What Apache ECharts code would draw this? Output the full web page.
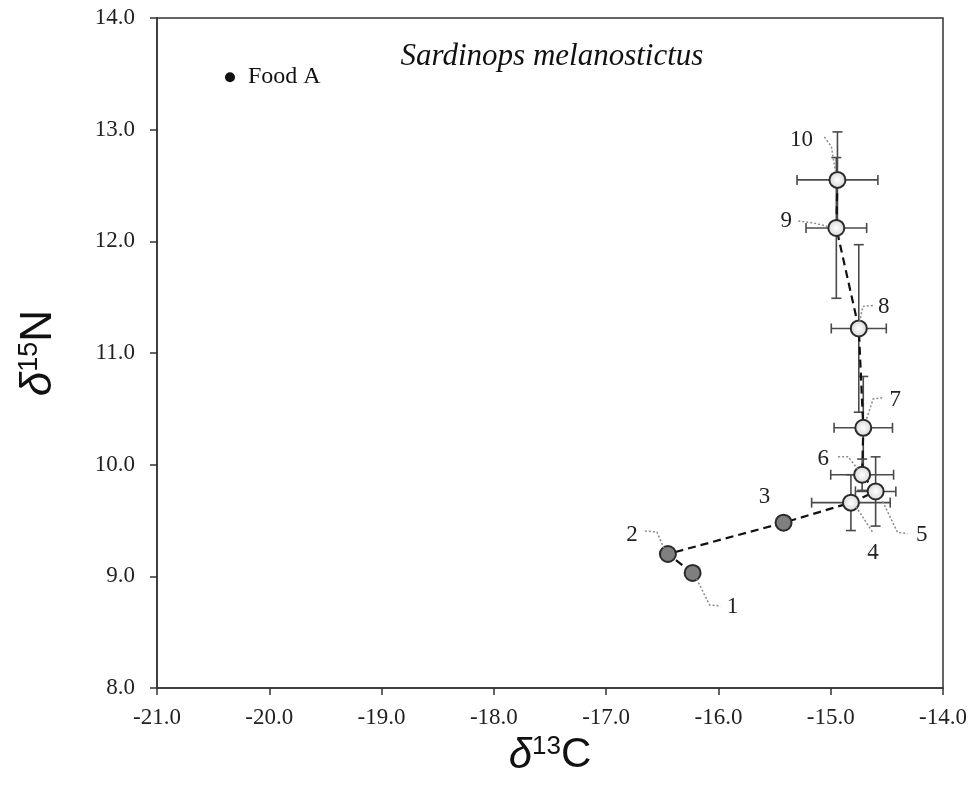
<!DOCTYPE html>
<html>
<head>
<meta charset="utf-8">
<script src="https://cdn.jsdelivr.net/npm/echarts@6/dist/echarts.min.js"></script>
<style>
  html, body { margin: 0; padding: 0; background: #fff; }
  #chart { width: 973px; height: 790px; }
</style>
</head>
<body>
<div id="chart"></div>
<script>
// Growth stages of Sardinops melanostictus: mean δ13C / δ15N with SD
const stageLabels = ['1', '2', '3', '4', '5', '6', '7', '8', '9', '10'];
const d13C = [-16.23, -16.45, -15.42, -14.82, -14.60, -14.72, -14.71, -14.75, -14.95, -14.94];
const d15N = [9.03, 9.20, 9.48, 9.66, 9.76, 9.91, 10.33, 11.22, 12.12, 12.55];
const d13C_sd = [null, null, null, 0.35, 0.18, 0.28, 0.26, 0.245, 0.27, 0.36];
const d15N_sd = [null, null, null, 0.25, 0.31, 0.14, 0.46, 0.75, 0.63, 0.43];
// stages drawn with the dark fill
const darkStages = ['1', '2', '3'];

// food source
const foodNames = ['Food A'];
const foodC = [-20.35];
const foodN = [13.47];

// axis ranges
const xRange = [-21, -14];
const yRange = [8, 14];

// callout placement for the stage numbers (pixel offsets from each marker)
const callouts = {
  '1':  { text: [40, 34],  path: [[4, 6], [17, 32], [28, 33]] },
  '2':  { text: [-36, -19], path: [[-23, -23], [-11, -22], [-4, -6]] },
  '3':  { text: [-19, -26], path: null },
  '4':  { text: [22, 50],  path: [[5, 4], [22, 30]] },
  '5':  { text: [46, 43],  path: [[7, 10], [22, 41], [32, 42]] },
  '6':  { text: [-39, -16], path: [[-24, -18], [-14, -18], [-4, -5]] },
  '7':  { text: [32, -28], path: [[19, -30], [10, -29], [3, -8]] },
  '8':  { text: [25, -21], path: [[14, -23], [4, -22], [1, -7]] },
  '9':  { text: [-50, -7], path: [[-38, -7], [-23, -5], [-7, -1]] },
  '10': { text: [-36, -40], path: [[-13, -43], [-6, -33], [-2, -8]] }
};

const serif = '"Liberation Serif", "Times New Roman", serif';
const sans = '"Liberation Sans", Arial, sans-serif';

const points = stageLabels.map((s, i) => [d13C[i], d15N[i], s]);
const errRows = stageLabels
  .map((s, i) => [d13C[i], d15N[i], d13C_sd[i], d15N_sd[i]])
  .filter(r => r[2] != null);

function renderErrorBar(params, api) {
  const x = api.value(0), y = api.value(1), ex = api.value(2), ey = api.value(3);
  const c = api.coord([x, y]);
  const l = api.coord([x - ex, y])[0], r = api.coord([x + ex, y])[0];
  const t = api.coord([x, y + ey])[1], b = api.coord([x, y - ey])[1];
  const cap = 5;
  const style = { stroke: '#4a4a4a', lineWidth: 1.6, fill: null };
  const seg = (x1, y1, x2, y2) => ({ type: 'line', shape: { x1, y1, x2, y2 }, style });
  return {
    type: 'group',
    children: [
      seg(l, c[1], r, c[1]),
      seg(l, c[1] - cap, l, c[1] + cap),
      seg(r, c[1] - cap, r, c[1] + cap),
      seg(c[0], t, c[0], b),
      seg(c[0] - cap, t, c[0] + cap, t),
      seg(c[0] - cap, b, c[0] + cap, b)
    ]
  };
}

function renderCallout(params, api) {
  const c = api.coord([api.value(0), api.value(1)]);
  const key = stageLabels[params.dataIndex];
  const cfg = callouts[key];
  const children = [];
  if (cfg.path) {
    children.push({
      type: 'polyline',
      shape: { points: cfg.path.map(p => [c[0] + p[0], c[1] + p[1]]) },
      style: { stroke: '#8a8a8a', lineWidth: 1.5, lineDash: [2, 2], fill: null }
    });
  }
  children.push({
    type: 'text',
    x: c[0] + cfg.text[0],
    y: c[1] + cfg.text[1],
    style: {
      text: key, fill: '#222', font: '23px ' + serif,
      align: 'center', verticalAlign: 'middle'
    }
  });
  return { type: 'group', children };
}

const chart = echarts.init(document.getElementById('chart'), null, { renderer: 'canvas' });

chart.setOption({
  animation: false,
  backgroundColor: '#fff',
  grid: {
    left: 157, right: 30, top: 18, bottom: 102,
    show: true, borderColor: '#333', borderWidth: 1.5, backgroundColor: 'transparent'
  },
  graphic: [{
    type: 'text',
    x: 552, y: 57,
    style: {
      text: 'Sardinops melanostictus',
      font: 'italic 31px ' + serif,
      fill: '#111', align: 'center', verticalAlign: 'middle'
    }
  }],
  xAxis: {
    type: 'value',
    min: xRange[0], max: xRange[1], interval: 1,
    splitLine: { show: false },
    axisLine: { onZero: false, lineStyle: { color: '#333', width: 1.5 } },
    axisTick: { show: true, inside: false, length: 7, lineStyle: { color: '#333', width: 1.5 } },
    axisLabel: {
      formatter: v => v.toFixed(1), color: '#222', fontFamily: serif, fontSize: 23, margin: 18
    },
    name: '{d|δ}{s|13}{c|C}',
    nameLocation: 'middle',
    nameGap: 44,
    nameTextStyle: {
      rich: {
        d: { fontFamily: sans, fontStyle: 'italic', fontSize: 42, color: '#111' },
        s: { fontFamily: sans, fontSize: 26, color: '#111', padding: [0, 0, 18, 0] },
        c: { fontFamily: sans, fontSize: 42, color: '#111' }
      }
    }
  },
  yAxis: {
    type: 'value',
    min: yRange[0], max: yRange[1], interval: 1,
    splitLine: { show: false },
    axisLine: { onZero: false, lineStyle: { color: '#333', width: 1.5 } },
    axisTick: { show: true, inside: false, length: 7, lineStyle: { color: '#333', width: 1.5 } },
    axisLabel: {
      formatter: v => v.toFixed(1), color: '#222', fontFamily: serif, fontSize: 23, margin: 22
    },
    name: '{d|δ}{s|15}{c|N}',
    nameLocation: 'middle',
    nameRotate: 90,
    nameGap: 96,
    nameTextStyle: {
      rich: {
        d: { fontFamily: sans, fontStyle: 'italic', fontSize: 44, color: '#111' },
        s: { fontFamily: sans, fontSize: 27, color: '#111', padding: [0, 0, 18, 0] },
        c: { fontFamily: sans, fontSize: 44, color: '#111' }
      }
    }
  },
  series: [
    {
      type: 'custom',
      name: 'sd',
      renderItem: renderErrorBar,
      data: errRows,
      encode: { x: 0, y: 1 },
      z: 1,
      silent: true
    },
    {
      type: 'line',
      name: 'track',
      data: points.map(p => [p[0], p[1]]),
      showSymbol: false,
      symbol: 'none',
      lineStyle: { color: '#111', width: 2.2, type: [8, 5] },
      z: 2,
      silent: true
    },
    {
      type: 'scatter',
      name: 'early',
      data: points.filter(p => darkStages.includes(p[2])),
      symbol: 'circle',
      symbolSize: 16,
      itemStyle: { color: '#7f7f7f', borderColor: '#2b2b2b', borderWidth: 2, opacity: 1 },
      z: 3
    },
    {
      type: 'scatter',
      name: 'late',
      data: points.filter(p => !darkStages.includes(p[2])),
      symbol: 'circle',
      symbolSize: 16,
      itemStyle: {
        color: {
          type: 'radial', x: 0.5, y: 0.5, r: 0.5,
          colorStops: [{ offset: 0, color: '#ffffff' }, { offset: 1, color: '#d4d4d4' }]
        },
        borderColor: '#2b2b2b', borderWidth: 2, opacity: 1
      },
      z: 3
    },
    {
      type: 'custom',
      name: 'callouts',
      renderItem: renderCallout,
      data: points.map(p => [p[0], p[1]]),
      encode: { x: 0, y: 1 },
      z: 4,
      silent: true
    },
    {
      type: 'scatter',
      name: 'food',
      data: foodNames.map((n, i) => ({ value: [foodC[i], foodN[i]], name: n })),
      symbol: 'circle',
      symbolSize: 10,
      itemStyle: { color: '#111', opacity: 1 },
      label: {
        show: true, position: 'right', distance: 13,
        formatter: p => p.name,
        fontFamily: serif, fontSize: 24, color: '#111'
      },
      z: 3
    }
  ]
});
</script>
</body>
</html>
